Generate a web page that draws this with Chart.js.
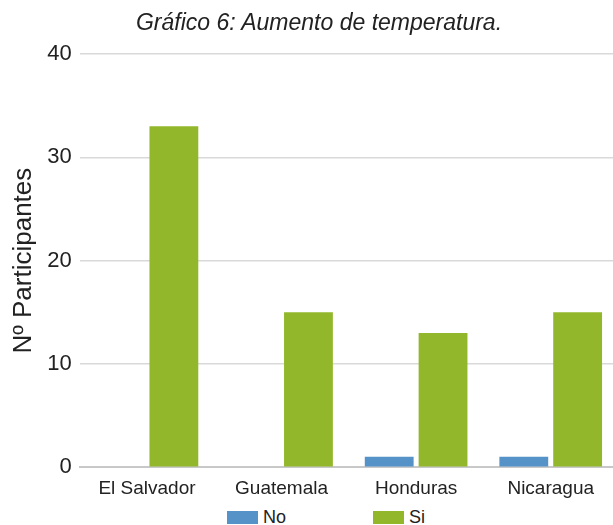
<!DOCTYPE html>
<html>
<head>
<meta charset="utf-8">
<script src="https://cdn.jsdelivr.net/npm/chart.js@4"></script>
<style>
  html, body { margin: 0; padding: 0; background: #fff; overflow: hidden; }
  #wrap { position: relative; width: 613px; height: 525px; overflow: hidden; }
  #chart { position: absolute; left: 0; top: 0; }
  #title { position: absolute; left: 0; top: 9px; width: 638px; text-align: center; line-height: 28px;
           font: italic 23px "Liberation Sans", Arial, sans-serif; color: #222; white-space: nowrap; }
  .legend { position: absolute; top: 507px; font: 18px "Liberation Sans", Arial, sans-serif; color: #222; }
  .legend span.box { display: inline-block; width: 31px; height: 13px; vertical-align: -1px; margin-right: 5px; }
</style>
</head>
<body>
<div id="wrap">
  <canvas id="chart" width="638" height="502"></canvas>
  <div id="title">Gráfico 6: Aumento de temperatura.</div>
  <div class="legend" style="left:227px"><span class="box" style="background:#5592c8"></span>No</div>
  <div class="legend" style="left:373px"><span class="box" style="background:#92b72b"></span>Si</div>
</div>
<script>
// datos del gráfico
const categories = ['El Salvador', 'Guatemala', 'Honduras', 'Nicaragua'];
const valuesNo = [0, 0, 1, 1];
const valuesSi = [33, 15, 13, 15];
const yTicks = [0, 10, 20, 30, 40];

const font = '"Liberation Sans", Arial, sans-serif';

const ctx = document.getElementById('chart');
new Chart(ctx, {
  type: 'bar',
  data: {
    labels: categories,
    datasets: [
      { label: 'No', data: valuesNo, backgroundColor: '#5592c8' },
      { label: 'Si', data: valuesSi, backgroundColor: '#92b72b' }
    ]
  },
  options: {
    responsive: false,
    animation: false,
    datasets: { bar: { categoryPercentage: 0.8, barPercentage: 0.907 } },
    // el lienzo es más ancho que la ventana; el área sobrante queda recortada
    layout: { padding: { top: 54, left: 0, right: 20, bottom: 0 } },
    plugins: {
      legend: { display: false },  // leyenda y título en HTML
      tooltip: { enabled: false }
    },
    scales: {
      x: {
        grid: { display: false },
        border: { color: '#c8c8c8', width: 2 },
        ticks: { color: '#222', font: { family: font, size: 19 }, padding: 2 }
      },
      y: {
        min: 0,
        max: 40,
        afterBuildTicks: (axis) => { axis.ticks = yTicks.map(v => ({ value: v })); },
        grid: { color: '#d9d9d9', lineWidth: 1.5, drawTicks: false },
        border: { display: false },
        ticks: { color: '#222', font: { family: font, size: 22 }, padding: 8 },
        title: {
          display: true,
          text: 'Nº Participantes',
          color: '#222',
          font: { family: font, size: 26 },
          padding: { top: 8, bottom: 0 }
        }
      }
    }
  }
});
</script>
</body>
</html>
